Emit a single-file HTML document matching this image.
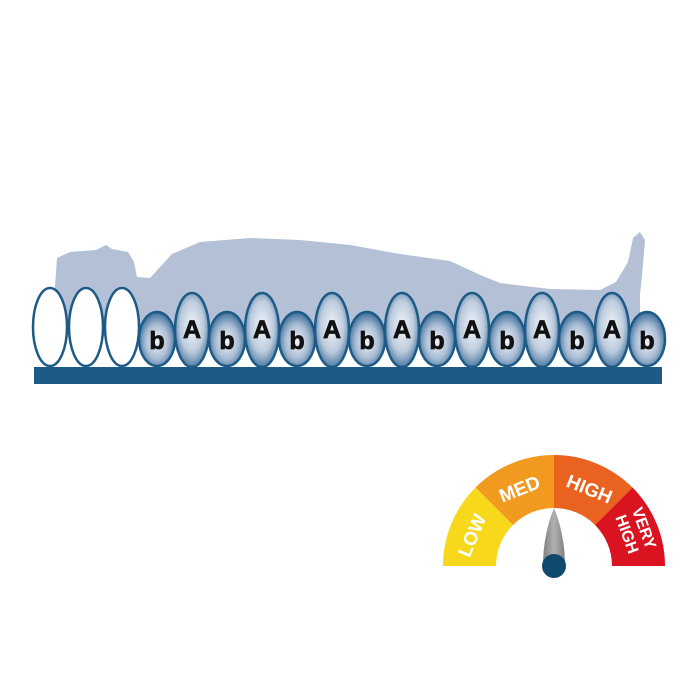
<!DOCTYPE html>
<html><head><style>body{margin:0;background:#fff}svg{display:block}</style></head><body>
<svg width="700" height="700" viewBox="0 0 700 700" xmlns="http://www.w3.org/2000/svg">
<defs>
<radialGradient id="gA" cx="50%" cy="45%" r="58%"><stop offset="0" stop-color="#f2f5fa"/><stop offset="0.6" stop-color="#bccbdd"/><stop offset="1" stop-color="#3f719c"/></radialGradient>
<radialGradient id="gB" cx="50%" cy="55%" r="58%"><stop offset="0" stop-color="#eef2f8"/><stop offset="0.55" stop-color="#a9bcd4"/><stop offset="1" stop-color="#2a6290"/></radialGradient>
<linearGradient id="nd" x1="0" x2="1"><stop offset="0" stop-color="#808080"/><stop offset="0.5" stop-color="#b0b0b0"/><stop offset="1" stop-color="#808080"/></linearGradient>
</defs>
<path d="M55,330 L55,287 L57,258 L70,252 L96,250 L106,245 L112,249 L128,252 L134,262 L137,277 L150,278 L172,254 L200,242 L250,238 L300,240 L350,245 L400,254 L450,261 L478,274 L500,283 L550,289 L600,290 L616,282 L628,262 L633,238 L640,232 L645,240 L643,265 L640,295 L640,330 Z" fill="#b4c0d6"/>
<rect x="34" y="367" width="628" height="17" fill="#1d5a86"/>
<g fill="#fff" stroke="#1d5a86" stroke-width="2.5">
<ellipse cx="50" cy="327" rx="17" ry="39"/>
<ellipse cx="86" cy="327" rx="17" ry="39"/>
<ellipse cx="122" cy="327" rx="17" ry="39"/>
</g>
<g stroke="#1d5a86" stroke-width="2.5" font-family="Liberation Sans, sans-serif" font-weight="bold" font-size="25" text-anchor="middle">
<g fill="url(#gB)">
<ellipse cx="157" cy="339" rx="18" ry="27"/><ellipse cx="227" cy="339" rx="18" ry="27"/><ellipse cx="297" cy="339" rx="18" ry="27"/><ellipse cx="367" cy="339" rx="18" ry="27"/><ellipse cx="437" cy="339" rx="18" ry="27"/><ellipse cx="507" cy="339" rx="18" ry="27"/><ellipse cx="577" cy="339" rx="18" ry="27"/><ellipse cx="647" cy="339" rx="18" ry="27"/>
</g>
<g fill="url(#gA)">
<ellipse cx="192" cy="330" rx="17" ry="37"/><ellipse cx="262" cy="330" rx="17" ry="37"/><ellipse cx="332" cy="330" rx="17" ry="37"/><ellipse cx="402" cy="330" rx="17" ry="37"/><ellipse cx="472" cy="330" rx="17" ry="37"/><ellipse cx="542" cy="330" rx="17" ry="37"/><ellipse cx="612" cy="330" rx="17" ry="37"/>
</g>
<g fill="#111" stroke="#111" stroke-width="0.8">
<text x="157" y="349">b</text><text x="227" y="349">b</text><text x="297" y="349">b</text><text x="367" y="349">b</text><text x="437" y="349">b</text><text x="507" y="349">b</text><text x="577" y="349">b</text><text x="647" y="349">b</text>
<text x="192" y="338">A</text><text x="262" y="338">A</text><text x="332" y="338">A</text><text x="402" y="338">A</text><text x="472" y="338">A</text><text x="542" y="338">A</text><text x="612" y="338">A</text>
</g>
</g>
<path d="M443,566 A111,111 0 0 1 475.5,487.5 L513,525 A58,58 0 0 0 496,566 Z" fill="#f7d81a"/>
<path d="M475.5,487.5 A111,111 0 0 1 554,455 L554,508 A58,58 0 0 0 513,525 Z" fill="#f29a1f"/>
<path d="M554,455 A111,111 0 0 1 632.5,487.5 L595,525 A58,58 0 0 0 554,508 Z" fill="#e9621f"/>
<path d="M632.5,487.5 A111,111 0 0 1 665,566 L612,566 A58,58 0 0 0 595,525 Z" fill="#d9131f"/>
<g fill="#fff" font-family="Liberation Sans, sans-serif" font-weight="bold" font-size="19" text-anchor="middle">
<text transform="translate(478,538) rotate(-67)">LOW</text>
<text transform="translate(522,495) rotate(-22)">MED</text>
<text transform="translate(587,495) rotate(22)">HIGH</text>
<text transform="translate(639,530) rotate(70)" font-size="16">VERY</text>
<text transform="translate(622,536) rotate(70)" font-size="16">HIGH</text>
</g>
<path d="M554,508 C547,525 543,545 543,566 L565,566 C565,545 561,525 554,508 Z" fill="url(#nd)"/>
<circle cx="554" cy="566" r="12" fill="#0f4a6e"/>
</svg>
</body></html>
